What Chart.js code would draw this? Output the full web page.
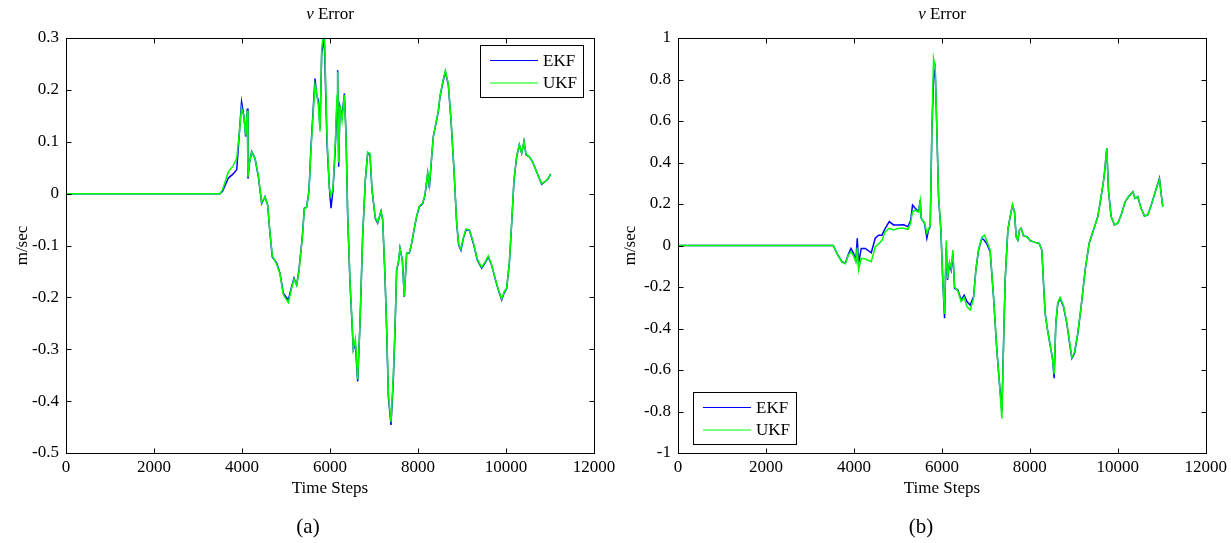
<!DOCTYPE html>
<html>
<head>
<meta charset="utf-8">
<script src="https://cdn.jsdelivr.net/npm/chart.js@4.4.0/dist/chart.umd.min.js"></script>
<style>
  body { margin: 0; width: 1231px; height: 543px; position: relative; overflow: hidden; background: #fff;
         font-family: "Liberation Serif", "DejaVu Serif", serif; color: #000; }
  canvas { position: absolute; top: 0; }
  .title { position: absolute; top: 4px; width: 528px; text-align: center; font-size: 17px; }
  .caption { position: absolute; top: 514px; width: 120px; text-align: center; font-size: 21px; }
</style>
</head>
<body>
<canvas id="chartA" width="620" height="543" style="left:0"></canvas>
<canvas id="chartB" width="619" height="543" style="left:612px"></canvas>
<div class="title" style="left:66px"><i>v</i> Error</div>
<div class="title" style="left:678px"><i>v</i> Error</div>
<div class="caption" style="left:248px">(a)</div>
<div class="caption" style="left:861px">(b)</div>
<script>
const seriesNames = ['EKF', 'UKF'];
const seriesColors = ['#0000ff', '#00ff00'];
const xTicks = [0, 2000, 4000, 6000, 8000, 10000, 12000];
const yTicksA = [-0.5, -0.4, -0.3, -0.2, -0.1, 0, 0.1, 0.2, 0.3];
const yTicksB = [-1, -0.8, -0.6, -0.4, -0.2, 0, 0.2, 0.4, 0.6, 0.8, 1];

// (a) time steps and errors
const stepsA = [
  0, 3500, 3560, 3690, 3800, 3880, 3930, 3990, 4045, 4083,
  4121, 4136, 4167, 4220, 4295, 4371, 4447, 4523, 4583, 4636,
  4689, 4788, 4864, 4939, 5053, 5129, 5182, 5242, 5295, 5371,
  5417, 5470, 5523, 5568, 5621, 5659, 5697, 5735, 5773, 5811,
  5870, 5932, 5985, 6023, 6068, 6121, 6160, 6174, 6197, 6227,
  6273, 6326, 6364, 6402, 6455, 6500, 6530, 6576, 6629, 6682,
  6742, 6803, 6856, 6909, 6955, 7030, 7083, 7159, 7197, 7250,
  7288, 7326, 7386, 7439, 7477, 7515, 7553, 7591, 7644, 7689,
  7742, 7803, 7856, 7909, 7970, 8030, 8106, 8159, 8220, 8258,
  8311, 8348, 8424, 8462, 8500, 8561, 8621, 8689, 8750, 8818,
  8879, 8924, 8977, 9030, 9091, 9167, 9258, 9348, 9447, 9523,
  9598, 9674, 9750, 9826, 9902, 9955, 10015, 10076, 10129, 10182,
  10242, 10303, 10356, 10409, 10455, 10530, 10606, 10682, 10758, 10811,
  10886, 10962, 11015
];
const ekfA = [
  0, 0, 0.005, 0.030, 0.038, 0.046, 0.105, 0.177, 0.148, 0.110,
  0.164, 0.029, 0.058, 0.081, 0.068, 0.033, -0.019, -0.006, -0.022, -0.077,
  -0.122, -0.134, -0.154, -0.192, -0.205, -0.179, -0.163, -0.176, -0.147, -0.083,
  -0.028, -0.026, 0.007, 0.090, 0.167, 0.222, 0.190, 0.180, 0.126, 0.270,
  0.300, 0.097, 0.013, -0.028, 0.007, 0.090, 0.180, 0.238, 0.052, 0.167,
  0.148, 0.193, 0.116, -0.044, -0.173, -0.250, -0.301, -0.290, -0.362, -0.250,
  -0.083, 0.026, 0.078, 0.075, 0.007, -0.048, -0.057, -0.034, -0.051, -0.160,
  -0.263, -0.391, -0.446, -0.359, -0.263, -0.147, -0.134, -0.105, -0.128, -0.199,
  -0.115, -0.115, -0.096, -0.070, -0.044, -0.025, -0.019, -0.003, 0.039, 0.011,
  0.071, 0.110, 0.142, 0.158, 0.187, 0.213, 0.235, 0.210, 0.142, 0.045,
  -0.057, -0.099, -0.109, -0.086, -0.070, -0.070, -0.096, -0.128, -0.144, -0.134,
  -0.122, -0.138, -0.163, -0.186, -0.205, -0.192, -0.183, -0.134, -0.057, 0.026,
  0.071, 0.094, 0.078, 0.101, 0.075, 0.071, 0.061, 0.045, 0.029, 0.018,
  0.023, 0.029, 0.038
];
const ukfA = [
  0, 0, 0.008, 0.042, 0.054, 0.068, 0.110, 0.165, 0.148, 0.112,
  0.160, 0.032, 0.058, 0.080, 0.068, 0.035, -0.017, -0.006, -0.022, -0.075,
  -0.120, -0.136, -0.155, -0.195, -0.210, -0.182, -0.165, -0.176, -0.150, -0.085,
  -0.030, -0.026, 0.005, 0.085, 0.160, 0.210, 0.195, 0.170, 0.120, 0.280,
  0.320, 0.110, 0.010, -0.005, 0.010, 0.100, 0.190, 0.235, 0.060, 0.170,
  0.140, 0.190, 0.110, -0.040, -0.170, -0.245, -0.300, -0.280, -0.358, -0.250,
  -0.083, 0.026, 0.080, 0.077, 0.008, -0.046, -0.055, -0.034, -0.050, -0.158,
  -0.260, -0.385, -0.440, -0.350, -0.260, -0.145, -0.133, -0.105, -0.128, -0.198,
  -0.115, -0.114, -0.095, -0.070, -0.043, -0.024, -0.018, -0.002, 0.040, 0.015,
  0.072, 0.110, 0.143, 0.160, 0.188, 0.215, 0.237, 0.212, 0.143, 0.046,
  -0.056, -0.097, -0.107, -0.085, -0.068, -0.070, -0.094, -0.126, -0.142, -0.132,
  -0.120, -0.137, -0.162, -0.185, -0.203, -0.190, -0.182, -0.133, -0.056, 0.027,
  0.072, 0.095, 0.078, 0.101, 0.076, 0.071, 0.061, 0.045, 0.029, 0.019,
  0.023, 0.030, 0.038
];

// (b) time steps and errors
const stepsB = [
  0, 3530, 3613, 3727, 3803, 3879, 3932, 3992, 4045, 4076,
  4106, 4167, 4258, 4394, 4485, 4561, 4636, 4712, 4803, 4902,
  5015, 5129, 5227, 5290, 5333, 5394, 5470, 5508, 5530, 5606,
  5659, 5697, 5735, 5773, 5811, 5848, 5886, 5924, 5977, 6023,
  6061, 6098, 6129, 6174, 6212, 6250, 6288, 6364, 6439, 6508,
  6568, 6644, 6720, 6773, 6833, 6909, 6970, 7023, 7098, 7174,
  7250, 7303, 7364, 7402, 7439, 7500, 7553, 7606, 7651, 7689,
  7727, 7765, 7803, 7856, 7932, 8008, 8121, 8212, 8273, 8311,
  8348, 8402, 8462, 8515, 8553, 8591, 8636, 8689, 8765, 8841,
  8894, 8955, 9015, 9091, 9167, 9258, 9348, 9447, 9545, 9621,
  9689, 9750, 9788, 9848, 9924, 10000, 10076, 10167, 10242, 10341,
  10394, 10455, 10530, 10606, 10682, 10773, 10864, 10947, 10985, 11023
];
const ekfB = [
  0, 0, -0.038, -0.078, -0.086, -0.040, -0.014, -0.038, -0.070, 0.035,
  -0.086, -0.014, -0.014, -0.035, 0.035, 0.050, 0.050, 0.083, 0.115, 0.099,
  0.099, 0.100, 0.091, 0.120, 0.195, 0.180, 0.163, 0.219, 0.131, 0.107,
  0.035, 0.075, 0.091, 0.557, 0.806, 0.850, 0.557, 0.235, 0.075, -0.182,
  -0.351, -0.010, -0.166, -0.086, -0.118, -0.040, -0.206, -0.215, -0.263, -0.239,
  -0.270, -0.287, -0.247, -0.118, -0.022, 0.035, 0.024, 0.008, -0.030, -0.247,
  -0.504, -0.648, -0.800, -0.480, -0.166, 0.075, 0.139, 0.195, 0.163, 0.042,
  0.026, 0.075, 0.083, 0.046, 0.042, 0.023, 0.015, 0.010, -0.022, -0.182,
  -0.327, -0.407, -0.480, -0.544, -0.640, -0.375, -0.279, -0.255, -0.295, -0.375,
  -0.455, -0.544, -0.520, -0.423, -0.295, -0.118, 0.010, 0.075, 0.139, 0.235,
  0.331, 0.468, 0.267, 0.139, 0.099, 0.107, 0.147, 0.211, 0.235, 0.259,
  0.227, 0.235, 0.179, 0.142, 0.147, 0.203, 0.267, 0.324, 0.251, 0.187
];
const ukfB = [
  0, 0, -0.038, -0.080, -0.088, -0.045, -0.030, -0.050, -0.080, -0.010,
  -0.118, -0.062, -0.065, -0.078, -0.006, 0.008, 0.024, 0.067, 0.083, 0.075,
  0.083, 0.083, 0.078, 0.110, 0.163, 0.170, 0.160, 0.215, 0.131, 0.110,
  0.059, 0.080, 0.095, 0.560, 0.902, 0.862, 0.560, 0.240, 0.080, -0.180,
  -0.330, 0.024, -0.160, -0.080, -0.110, -0.022, -0.200, -0.220, -0.270, -0.250,
  -0.295, -0.311, -0.255, -0.118, -0.020, 0.040, 0.050, 0.020, -0.022, -0.247,
  -0.504, -0.648, -0.833, -0.480, -0.166, 0.075, 0.139, 0.197, 0.163, 0.042,
  0.026, 0.075, 0.083, 0.046, 0.042, 0.023, 0.015, 0.010, -0.022, -0.182,
  -0.327, -0.407, -0.480, -0.544, -0.620, -0.375, -0.275, -0.250, -0.290, -0.370,
  -0.450, -0.540, -0.515, -0.420, -0.293, -0.118, 0.010, 0.075, 0.139, 0.235,
  0.331, 0.468, 0.267, 0.139, 0.100, 0.108, 0.147, 0.211, 0.235, 0.259,
  0.227, 0.235, 0.179, 0.142, 0.147, 0.203, 0.267, 0.320, 0.251, 0.187
];

const FONT = '"Liberation Serif", "DejaVu Serif", serif';

// black box round the plot with matlab style inward ticks on all sides
const frame = {
  id: 'frame',
  afterDatasetsDraw(chart) {
    const { ctx, chartArea: a, scales: { x, y } } = chart;
    const L = Math.round(a.left) + 0.5, R = Math.round(a.right) + 0.5;
    const T = Math.round(a.top) + 0.5, B = Math.round(a.bottom) + 0.5;
    ctx.save();
    ctx.strokeStyle = '#000';
    ctx.lineWidth = 1;
    ctx.beginPath();
    x.ticks.forEach(t => {
      const px = Math.round(x.getPixelForValue(t.value)) + 0.5;
      ctx.moveTo(px, B); ctx.lineTo(px, B - 5);
      ctx.moveTo(px, T); ctx.lineTo(px, T + 5);
    });
    y.ticks.forEach(t => {
      const py = Math.round(y.getPixelForValue(t.value)) + 0.5;
      ctx.moveTo(L, py); ctx.lineTo(L + 5, py);
      ctx.moveTo(R, py); ctx.lineTo(R - 5, py);
    });
    ctx.stroke();
    ctx.strokeRect(L, T, R - L, B - T);
    ctx.restore();
  }
};

// legend drawn inside the plot, like the matlab one
const boxLegend = {
  id: 'boxLegend',
  afterDraw(chart, args, opts) {
    const { ctx, chartArea: a } = chart;
    const w = 103, h = 52;
    const bx = Math.round(opts.corner === 'topRight' ? a.right - 11 - w : a.left + 15);
    const by = Math.round(opts.corner === 'topRight' ? a.top + 7 : a.bottom - 9 - h);
    ctx.save();
    ctx.fillStyle = '#fff';
    ctx.fillRect(bx, by, w, h);
    ctx.strokeStyle = '#000';
    ctx.lineWidth = 1;
    ctx.strokeRect(bx + 0.5, by + 0.5, w, h);
    ctx.font = '17px ' + FONT;
    ctx.textBaseline = 'middle';
    chart.data.datasets.forEach((ds, i) => {
      const ly = by + 15.5 + i * 22.5;
      ctx.strokeStyle = ds.borderColor;
      ctx.beginPath();
      ctx.moveTo(bx + 10, ly); ctx.lineTo(bx + 58, ly);
      ctx.stroke();
      ctx.fillStyle = '#000';
      ctx.fillText(ds.label, bx + 63, ly + 1);
    });
    ctx.restore();
  }
};

function makeChart(id, steps, ekf, ukf, yTicks, corner, padRight, yTitlePad) {
  const toPts = vals => steps.map((t, i) => ({ x: t, y: vals[i] }));
  return new Chart(document.getElementById(id), {
    type: 'line',
    data: {
      datasets: [
        { label: seriesNames[0], data: toPts(ekf), borderColor: seriesColors[0], borderWidth: 1.5, order: 2 },
        { label: seriesNames[1], data: toPts(ukf), borderColor: seriesColors[1], borderWidth: 1.5, order: 1 }
      ]
    },
    options: {
      responsive: false,
      animation: false,
      elements: { point: { radius: 0 }, line: { tension: 0 } },
      layout: { padding: { left: 0, right: padRight, top: 38, bottom: 40 } },
      plugins: { legend: { display: false }, tooltip: { enabled: false }, boxLegend: { corner } },
      scales: {
        x: {
          type: 'linear', min: 0, max: 12000,
          afterBuildTicks: s => { s.ticks = xTicks.map(v => ({ value: v })); },
          afterFit: s => { s.height = 50; },
          grid: { display: false, drawTicks: false }, border: { display: false },
          ticks: { color: '#000', padding: 4, maxRotation: 0, font: { family: FONT, size: 17 }, callback: v => String(v) },
          title: { display: true, text: 'Time Steps', color: '#000', padding: { top: 4, bottom: 4 }, font: { family: FONT, size: 17 } }
        },
        y: {
          type: 'linear', min: yTicks[0], max: yTicks[yTicks.length - 1],
          afterBuildTicks: s => { s.ticks = yTicks.map(v => ({ value: v })); },
          afterFit: s => { s.width = 66; },
          grid: { display: false, drawTicks: false }, border: { display: false },
          ticks: { color: '#000', padding: 7, font: { family: FONT, size: 17 }, callback: v => String(+v.toFixed(1)) },
          title: { display: true, text: 'm/sec', color: '#000', padding: { top: yTitlePad, bottom: 0 }, font: { family: FONT, size: 17 } }
        }
      }
    },
    plugins: [frame, boxLegend]
  });
}

makeChart('chartA', stepsA, ekfA, ukfA, yTicksA, 'topRight', 26, 12);
makeChart('chartB', stepsB, ekfB, ukfB, yTicksB, 'bottomLeft', 25, 8);
</script>
</body>
</html>
